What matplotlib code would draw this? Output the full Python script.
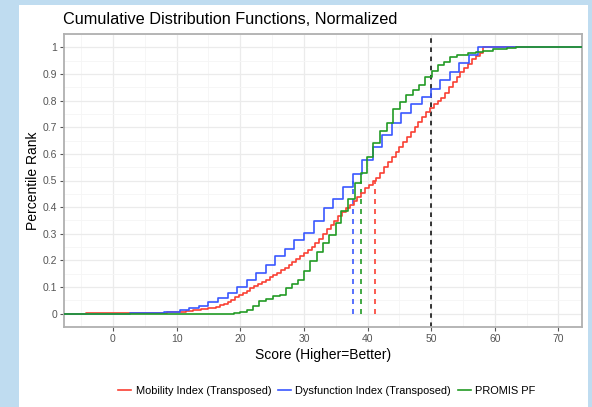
import numpy as np
import matplotlib
matplotlib.use("Agg")
import matplotlib.pyplot as plt
from matplotlib.patches import Rectangle
from matplotlib.ticker import MultipleLocator

plt.rcParams['font.family'] = ['Liberation Sans', 'DejaVu Sans']

# step positions (score) and cumulative level after each step
mobility_x = [-4.2, 2.0, 6.0, 8.5,
              10.2, 10.8, 11.4, 12.0, 12.6, 13.2, 13.8, 14.4, 15.0, 15.6, 16.2, 16.8, 17.4, 18.0,
              18.6, 19.2, 19.8, 20.4, 21.0, 21.6, 22.2, 22.8, 23.4, 24.0, 24.6, 25.2, 25.8, 26.4,
              27.0, 27.6, 28.2, 28.8, 29.4, 30.0, 30.6, 31.2, 31.8, 32.4, 33.0, 33.6, 34.2, 34.8,
              35.4, 36.0, 36.6, 37.2, 37.8, 38.4, 39.0, 39.6, 40.2, 40.8, 41.4, 42.0, 42.6, 43.2,
              43.8, 44.4, 45.0, 45.6, 46.2, 46.8, 47.4, 48.0, 48.6, 49.2, 49.8, 50.4, 51.0, 51.6,
              52.2, 52.8, 53.4, 54.0, 54.6, 55.2, 55.8, 56.4, 57.0, 57.6, 58.2]
mobility_y = [0.001, 0.002, 0.003, 0.005,
              0.007, 0.008, 0.010, 0.011, 0.012, 0.014, 0.016, 0.018, 0.020, 0.023, 0.026, 0.031,
              0.037, 0.044, 0.053, 0.061, 0.070, 0.078, 0.087, 0.096, 0.104, 0.112, 0.120, 0.128,
              0.137, 0.145, 0.154, 0.163, 0.173, 0.184, 0.195, 0.206, 0.216, 0.226, 0.238, 0.252,
              0.266, 0.281, 0.298, 0.317, 0.333, 0.349, 0.365, 0.380, 0.395, 0.409, 0.423, 0.438,
              0.454, 0.470, 0.484, 0.497, 0.508, 0.528, 0.549, 0.569, 0.588, 0.606, 0.625, 0.644,
              0.664, 0.683, 0.702, 0.720, 0.738, 0.756, 0.773, 0.786, 0.798, 0.810, 0.828, 0.850,
              0.870, 0.890, 0.906, 0.922, 0.938, 0.955, 0.968, 0.980, 1.0]

dysfunction_x = [2.7, 5.5, 8.0, 10.5, 12.0, 13.5, 15.0, 16.5, 18.0, 19.5, 21.0, 22.5, 24.0, 25.5,
                 27.0, 28.5, 30.0, 31.6, 33.1, 34.6, 36.2, 37.7, 39.2, 40.8, 42.3, 43.8, 45.3,
                 46.9, 48.5, 50.0, 51.4, 52.9, 54.4, 55.9, 57.4]
dysfunction_y = [0.002, 0.004, 0.007, 0.015, 0.021, 0.030, 0.045, 0.060, 0.078, 0.102, 0.125,
                 0.151, 0.182, 0.215, 0.244, 0.275, 0.303, 0.348, 0.398, 0.430, 0.475, 0.524,
                 0.577, 0.625, 0.671, 0.715, 0.752, 0.786, 0.815, 0.842, 0.877, 0.909, 0.942,
                 0.970, 1.0]

promis_x = [19.0, 20.0, 21.0, 22.0, 23.0, 24.1, 25.1, 26.2, 27.2, 28.2, 29.1, 30.0, 30.9, 32.0,
            33.0, 34.0, 35.0, 35.9, 37.0, 38.0, 38.9, 39.9, 40.9, 41.9, 43.0, 44.0, 45.1, 46.1,
            47.1, 48.1, 49.1, 50.1, 51.1, 52.0, 52.9, 54.0, 55.8, 57.1, 58.2, 59.7, 61.9, 63.4]
promis_y = [0.002, 0.005, 0.015, 0.030, 0.048, 0.055, 0.068, 0.072, 0.096, 0.112, 0.127, 0.159,
            0.196, 0.232, 0.267, 0.295, 0.340, 0.384, 0.432, 0.490, 0.528, 0.590, 0.640, 0.684,
            0.715, 0.767, 0.796, 0.821, 0.840, 0.859, 0.887, 0.912, 0.934, 0.946, 0.962, 0.971,
            0.979, 0.983, 0.988, 0.992, 0.996, 1.0]

labels = ["Mobility Index (Transposed)", "Dysfunction Index (Transposed)", "PROMIS PF"]
colors = ["#fa4033", "#3a58ff", "#229b25"]
medians = [41.2, 37.7, 39.0]
reference = 50

fig = plt.figure(figsize=(5.92, 4.07), dpi=100)
fig.patch.set_facecolor("#bfdcf0")
fig.patches.append(Rectangle((19 / 592, 0), (588 - 19) / 592, 402 / 407,
                             transform=fig.transFigure, facecolor="white",
                             edgecolor="none", zorder=-5))

ax = fig.add_axes([64 / 592, 80 / 407, (582 - 64) / 592, (327 - 34) / 407])
ax.set_facecolor("white")
ax.set_xlim(-7.7, 73.7)
ax.set_ylim(-0.05, 1.05)

lo, hi = -20, 90
series = [(mobility_x, mobility_y), (dysfunction_x, dysfunction_y), (promis_x, promis_y)]
handles = []
for (xs, ys), col, lab in zip(series, colors, labels):
    xx = [lo] + xs + [hi]
    yy = [0] + ys + [ys[-1]]
    h, = ax.step(xx, yy, where="post", color=col, lw=1.2, label=lab, zorder=3)
    handles.append(h)

for m, col in zip(medians, colors):
    ax.plot([m, m], [0, 0.5], color=col, lw=1.2, ls=(0, (3, 3)), zorder=2)
ax.axvline(reference, color="black", lw=1.1, ls=(0, (3, 3)), zorder=2)

ax.xaxis.set_major_locator(MultipleLocator(10))
ax.xaxis.set_minor_locator(MultipleLocator(5))
ax.yaxis.set_minor_locator(MultipleLocator(0.05))
ax.set_yticks(np.arange(0, 1.01, 0.1))
ax.set_yticklabels(["0", "0.1", "0.2", "0.3", "0.4", "0.5", "0.6", "0.7", "0.8", "0.9", "1"])
ax.grid(which="major", color="#ebebeb", lw=0.9, zorder=0)
ax.grid(which="minor", color="#f5f5f5", lw=0.6, zorder=0)
ax.set_axisbelow(True)
for s in ax.spines.values():
    s.set_color("#b0b0b0")
    s.set_linewidth(1.3)
ax.tick_params(which="major", length=3, width=0.8, color="#555555",
               labelsize=7.5, labelcolor="#555555", pad=2)
ax.tick_params(which="minor", length=0)

ax.set_xlabel("Score (Higher=Better)", fontsize=10, labelpad=3)
ax.set_ylabel("Percentile Rank", fontsize=10, labelpad=2)
ax.set_title("Cumulative Distribution Functions, Normalized", fontsize=11.7, loc="left",
             x=-0.002, pad=7)

fig.legend(handles=handles, loc="center", bbox_to_anchor=(0.552, 0.04), ncol=3,
           frameon=False, fontsize=7.9, handlelength=1.2, handletextpad=0.4,
           columnspacing=0.6)

fig.savefig("out.png", dpi=100)
